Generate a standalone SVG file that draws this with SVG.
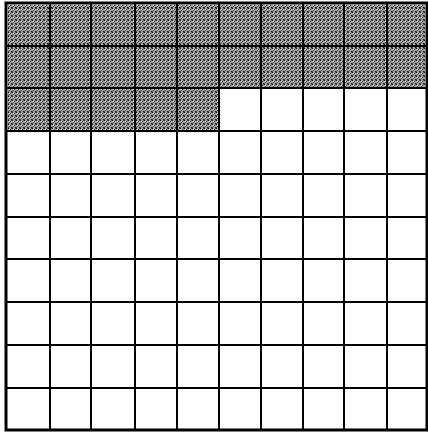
<svg xmlns="http://www.w3.org/2000/svg" width="428" height="434" viewBox="0 0 428 434">
<defs>
<pattern id="dither" width="4" height="4" patternUnits="userSpaceOnUse">
<rect width="4" height="4" fill="#a8a8a8"/>
<rect x="0" y="0" width="1" height="1" fill="#111"/>
<rect x="2" y="1" width="1" height="1" fill="#222"/>
<rect x="1" y="2" width="1" height="1" fill="#333"/>
<rect x="3" y="3" width="1" height="1" fill="#111"/>
<rect x="3" y="0" width="1" height="1" fill="#555"/>
<rect x="0" y="3" width="1" height="1" fill="#444"/>
<rect x="1" y="1" width="1" height="1" fill="#eee"/>
</pattern>
</defs>
<style>
.sh{fill:url(#dither)}
.ln{stroke:#000;stroke-width:2;fill:none}
.bd{stroke:#000;stroke-width:3;fill:none}
</style>
<rect width="428" height="434" fill="#fff"/>
<g id="shading">
<rect class="sh" x="8" y="5" width="417" height="82"/>
<rect class="sh" x="8" y="89" width="210" height="41"/>
</g>
<g id="grid">
<path class="ln" d="M50 3V430M91 3V430M135 3V430M177 3V430M219 3V430M261 3V430M303 3V430M344 3V430M387 3V430"/>
<path class="ln" d="M6 46H427M6 88H427M6 131H427M6 174H427M6 217H427M6 259H427M6 302H427M6 345H427M6 388H427"/>
<rect class="bd" x="6" y="3" width="421" height="427"/>
</g>
</svg>
